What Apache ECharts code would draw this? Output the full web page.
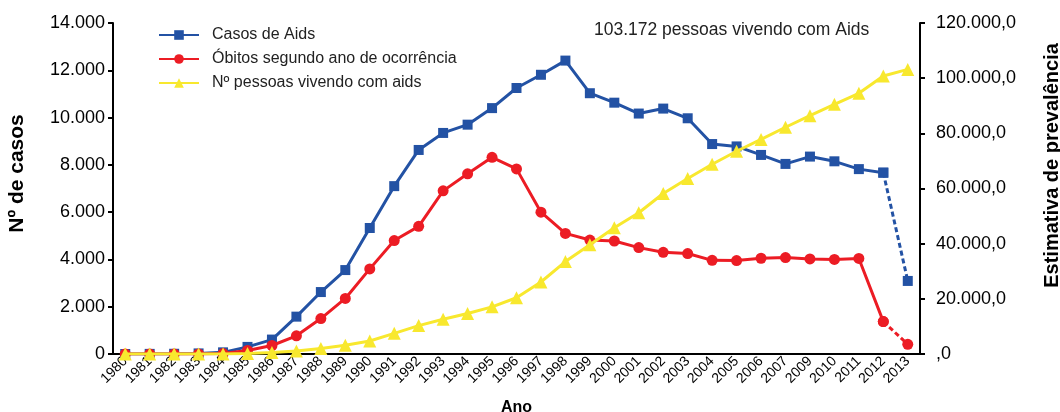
<!DOCTYPE html>
<html>
<head>
<meta charset="utf-8">
<script src="https://cdn.jsdelivr.net/npm/echarts@6/dist/echarts.min.js"></script>
<style>
  html, body { margin: 0; padding: 0; background: #fff; }
  #chart { width: 1060px; height: 412px; }
</style>
</head>
<body>
<div id="chart"></div>
<script>
const anos = ['1980','1981','1982','1983','1984','1985','1986','1987','1988','1989',
  '1990','1991','1992','1993','1994','1995','1996','1997','1998','1999','2000',
  '2001','2002','2003','2004','2005','2006','2007','2009','2010','2011','2012','2013'];

const casos = [0, 5, 10, 25, 70, 300, 610, 1580, 2620, 3550,
  5330, 7100, 8630, 9350, 9700, 10400, 11250, 11810, 12410, 11030, 10630,
  10170, 10380, 9970, 8880, 8780, 8420, 8040, 8350, 8150, 7820, 7670, 3090];

const obitos = [0, 0, 0, 5, 20, 150, 360, 770, 1500, 2350,
  3600, 4800, 5400, 6900, 7620, 8320, 7830, 6000, 5100, 4820, 4780,
  4500, 4300, 4250, 3960, 3950, 4050, 4080, 4020, 4000, 4040, 1370, 410];

const vivendo = [0, 0, 0, 0, 0, 200, 500, 1100, 2000, 3200,
  4700, 7500, 10300, 12600, 14700, 17100, 20400, 26100, 33500, 39600, 45800,
  51200, 58200, 63600, 68800, 73500, 77800, 82200, 86400, 90500, 94500, 100800, 103172];

const nomes = ['Casos de Aids', 'Óbitos segundo ano de ocorrência', 'Nº pessoas vivendo com aids'];
const nota = '103.172 pessoas vivendo com Aids';

const azul = '#2352a4';
const vermelho = '#ec1c24';
const amarelo = '#f8e82e';
const fonte = 'Liberation Sans, Arial, Helvetica, sans-serif';

const last = anos.length - 1;
// solid part stops at 2012, the 2012-2013 step is dashed
const solid = arr => arr.map((v, i) => (i < last ? v : '-'));
const dashed = arr => arr.map((v, i) => (i >= last - 1 ? v : '-'));

function milhar(v) {
  return String(v).replace(/\B(?=(\d{3})+(?!\d))/g, '.');
}

const chart = echarts.init(document.getElementById('chart'));

const option = {
  animation: false,
  textStyle: { fontFamily: fonte },
  grid: { left: 113, right: 140, top: 23, bottom: 58, containLabel: false, outerBoundsMode: 'none' },
  legend: {
    data: nomes,
    orient: 'vertical',
    left: 153,
    top: 22,
    itemWidth: 40,
    itemHeight: 12,
    itemGap: 8,
    textStyle: { fontSize: 16, color: '#222', fontFamily: fonte, padding: [0, 0, 0, 8] }
  },
  graphic: [{
    type: 'text',
    left: 594,
    top: 21,
    style: { text: nota, fill: '#222', font: '17.5px ' + fonte }
  }],
  xAxis: {
    type: 'category',
    data: anos,
    boundaryGap: true,
    name: 'Ano',
    nameLocation: 'middle',
    nameGap: 46,
    nameTextStyle: { fontSize: 16, fontWeight: 'bold', color: '#000' },
    axisLine: { lineStyle: { color: '#000', width: 2 } },
    axisTick: { lineStyle: { color: '#000', width: 2 }, length: 5 },
    axisLabel: { rotate: 45, fontSize: 14, color: '#000', margin: 5, interval: 0 }
  },
  yAxis: [{
    type: 'value',
    min: 0,
    max: 14000,
    interval: 2000,
    name: 'Nº de casos',
    nameLocation: 'middle',
    nameRotate: 90,
    nameGap: 85,
    nameTextStyle: { fontSize: 21, fontWeight: 'bold', color: '#000', padding: [0, 0, 0, 30] },
    splitLine: { show: false },
    axisLine: { show: true, lineStyle: { color: '#000', width: 2 } },
    axisTick: { show: true, lineStyle: { color: '#000', width: 2 }, length: 5 },
    axisLabel: { fontSize: 18, color: '#000', margin: 8, formatter: v => milhar(v) }
  }, {
    type: 'value',
    position: 'right',
    min: 0,
    max: 120000,
    interval: 20000,
    name: 'Estimativa de prevalência',
    nameLocation: 'middle',
    nameRotate: 90,
    nameGap: 122,
    nameTextStyle: { fontSize: 20, fontWeight: 'bold', color: '#000', padding: [0, 0, 0, 46] },
    splitLine: { show: false },
    axisLine: { show: true, lineStyle: { color: '#000', width: 2 } },
    axisTick: { show: true, lineStyle: { color: '#000', width: 2 }, length: 5 },
    axisLabel: {
      fontSize: 18, color: '#000', margin: 16,
      formatter: v => (v === 0 ? ',0' : milhar(v) + ',0')
    }
  }],
  series: [{
    name: nomes[0],
    type: 'line',
    data: solid(casos),
    color: azul,
    symbol: 'rect',
    symbolSize: 10,
    lineStyle: { width: 3 },
    z: 2
  }, {
    name: 'casos-proj',
    type: 'line',
    data: dashed(casos),
    color: azul,
    symbol: 'rect',
    symbolSize: 10,
    lineStyle: { width: 3, type: [5, 3] },
    z: 2
  }, {
    name: nomes[1],
    type: 'line',
    data: solid(obitos),
    color: vermelho,
    symbol: 'circle',
    symbolSize: 11,
    lineStyle: { width: 3 },
    z: 3
  }, {
    name: 'obitos-proj',
    type: 'line',
    data: dashed(obitos),
    color: vermelho,
    symbol: 'circle',
    symbolSize: 11,
    lineStyle: { width: 3, type: [5, 3] },
    z: 3
  }, {
    name: nomes[2],
    type: 'line',
    yAxisIndex: 1,
    data: vivendo,
    color: amarelo,
    symbol: 'triangle',
    symbolSize: 13,
    lineStyle: { width: 3 },
    z: 4
  }]
};

chart.setOption(option);
</script>
</body>
</html>
